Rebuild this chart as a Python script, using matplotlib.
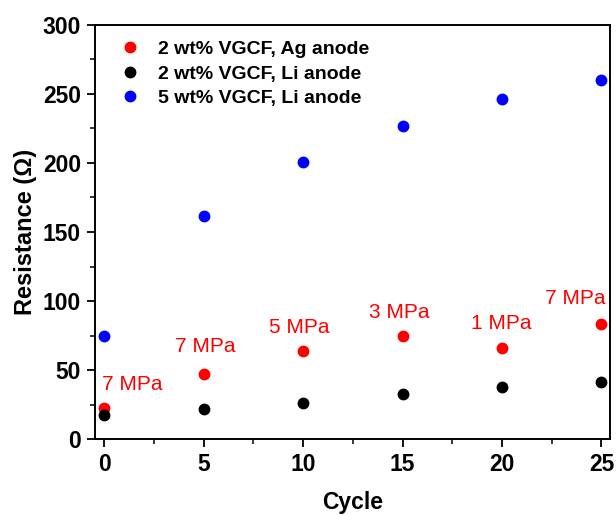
import matplotlib
matplotlib.use("Agg")
import matplotlib.pyplot as plt
from matplotlib.ticker import MultipleLocator

plt.rcParams['font.family'] = ['Liberation Sans', 'DejaVu Sans']

cycle = [0, 5, 10, 15, 20, 25]
ag_2wt = [22.8, 47.6, 63.7, 74.5, 66.4, 83.2]
li_2wt = [17.8, 21.6, 26.4, 32.7, 38.0, 41.6]
li_5wt = [74.5, 161.3, 200.7, 226.7, 246.1, 260.0]
pressure = ["7 MPa", "7 MPa", "5 MPa", "3 MPa", "1 MPa", "7 MPa"]
series_names = ["2 wt% VGCF, Ag anode", "2 wt% VGCF, Li anode", "5 wt% VGCF, Li anode"]

# where the pressure labels sit (data coords, baseline)
lab_x = [1.4, 5.07, 9.83, 14.82, 19.97, 23.7]
lab_y = [35.6, 63.2, 77.2, 88.0, 80.1, 98.1]

fig = plt.figure(figsize=(6.16, 5.15), dpi=100)
ax = fig.add_axes([0.154, 0.147, 0.836, 0.805])

ax.plot(cycle, ag_2wt, 'o', color='#ff0000', markersize=7.5, label=series_names[0])
ax.plot(cycle, li_2wt, 'o', color='black', markersize=7.5, label=series_names[1])
ax.plot(cycle, li_5wt, 'o', color='#0000ff', markersize=7.5, label=series_names[2])

for i in range(len(cycle)):
    ax.text(lab_x[i], lab_y[i], pressure[i], color='#ff0000', fontsize=15,
            ha='center', va='baseline')

ax.set_xlim(-0.47, 25.42)
ax.set_ylim(0, 300)
ax.xaxis.set_major_locator(MultipleLocator(5))
ax.xaxis.set_minor_locator(MultipleLocator(2.5))
ax.yaxis.set_major_locator(MultipleLocator(50))
ax.yaxis.set_minor_locator(MultipleLocator(25))
ax.tick_params(which='major', direction='out', length=6, width=1.3, labelsize=16.5, pad=4)
ax.tick_params(which='minor', direction='out', length=3.5, width=1.1)
for lab in ax.get_xticklabels() + ax.get_yticklabels():
    lab.set_fontweight('bold')
for sp in ax.spines.values():
    sp.set_linewidth(1.4)

ax.set_xlabel("Cycle", fontsize=16.5, fontweight='bold', labelpad=11)
ax.set_ylabel("Resistance (Ω)", fontsize=17, fontweight='bold', labelpad=4)

leg = ax.legend(loc='upper left', frameon=False, prop={'weight': 'bold', 'size': 14},
                handletextpad=0.84, labelspacing=0.35, borderaxespad=0, borderpad=0,
                handlelength=1.2, bbox_to_anchor=(0.045, 0.962))

fig.savefig("out.png", dpi=100)
